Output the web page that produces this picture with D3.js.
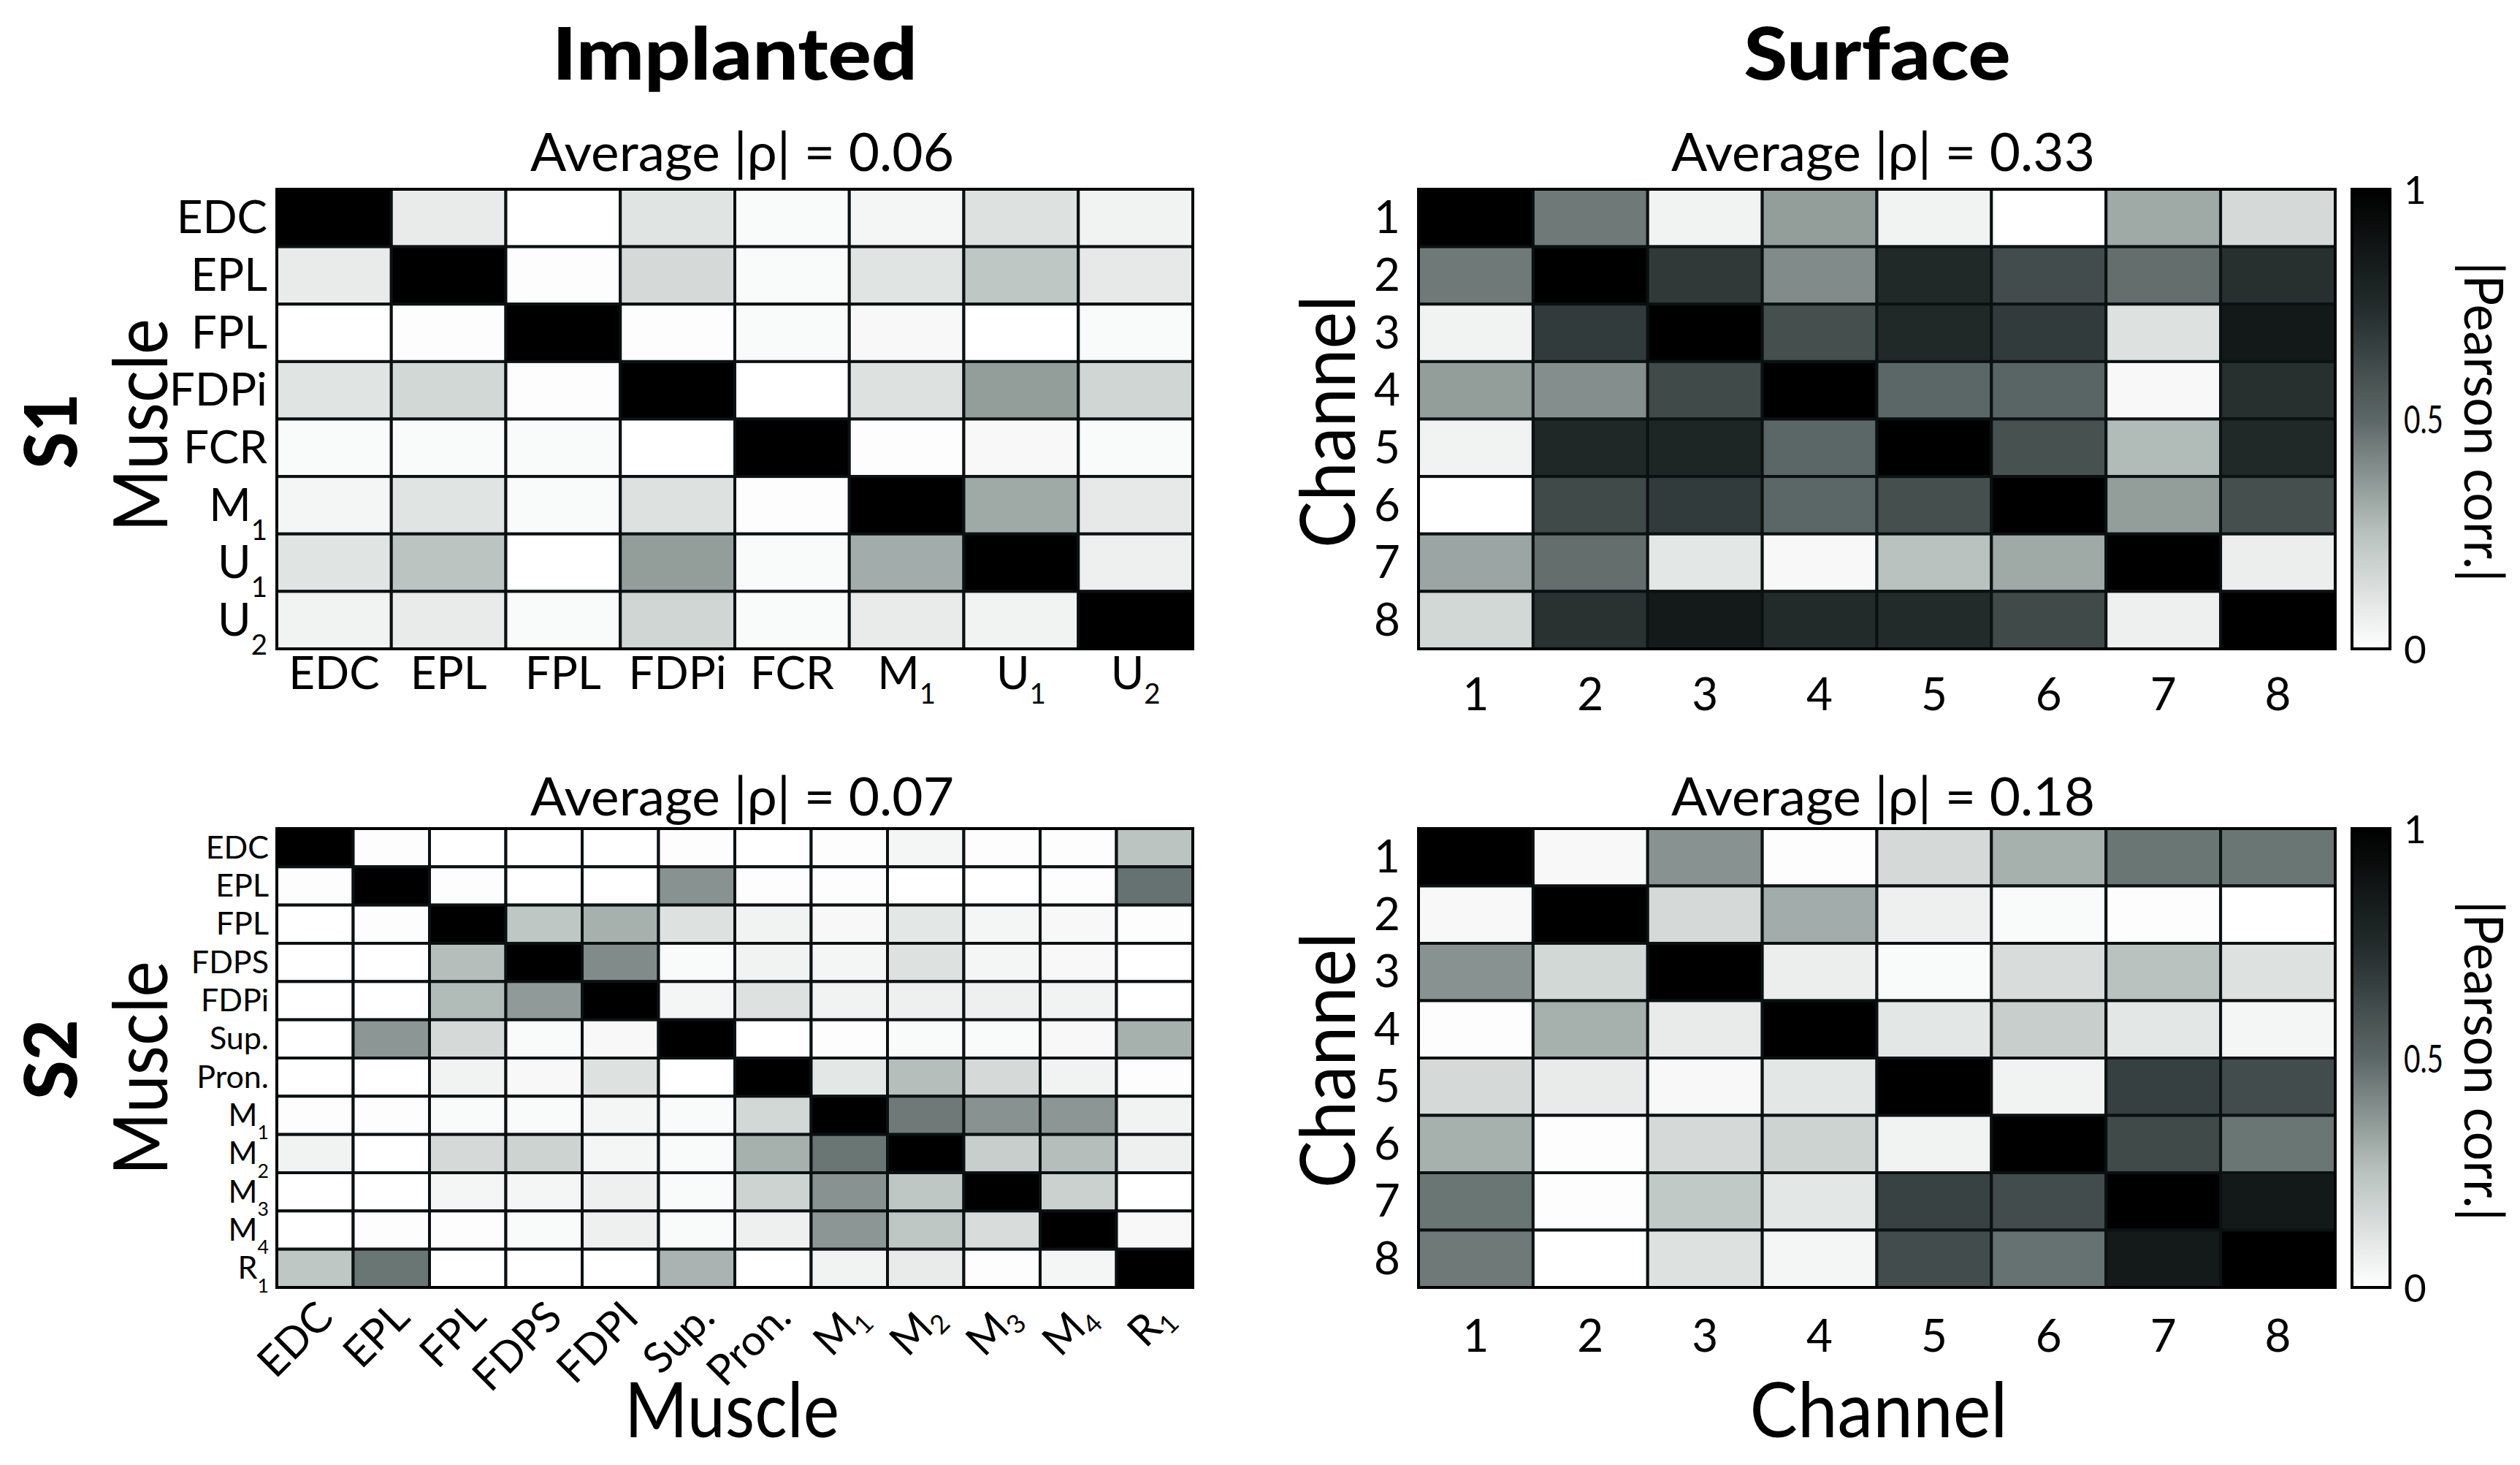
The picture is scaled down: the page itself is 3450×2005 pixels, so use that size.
<!DOCTYPE html>
<html>
<head>
<meta charset="utf-8">
<script src="https://cdn.jsdelivr.net/npm/d3@7"></script>
<style>
  body { margin: 0; background: #fff; }
  text { font-family: Lato, "Open Sans", "Noto Sans", sans-serif; fill: #000; }
</style>
</head>
<body>
<div id="chart"></div>
<script>
// Tick labels ("_" marks a subscript)
const s1Muscles = ["EDC", "EPL", "FPL", "FDPi", "FCR", "M_1", "U_1", "U_2"];
const s2MuscleRows = ["EDC", "EPL", "FPL", "FDPS", "FDPi", "Sup.", "Pron.", "M_1", "M_2", "M_3", "M_4", "R_1"];
const s2MuscleCols = ["EDC", "EPL", "FPL", "FDPS", "FDPI", "Sup.", "Pron.", "M_1", "M_2", "M_3", "M_4", "R_1"];
const channels = ["1", "2", "3", "4", "5", "6", "7", "8"];

// |Pearson corr.| matrices
const s1Implanted = [
  [1.00, 0.08, 0.00, 0.11, 0.02, 0.04, 0.12, 0.05],
  [0.08, 1.00, 0.01, 0.15, 0.02, 0.11, 0.23, 0.09],
  [0.00, 0.01, 1.00, 0.01, 0.02, 0.03, 0.00, 0.02],
  [0.11, 0.16, 0.01, 1.00, 0.00, 0.12, 0.35, 0.17],
  [0.02, 0.02, 0.02, 0.00, 1.00, 0.01, 0.03, 0.02],
  [0.04, 0.11, 0.02, 0.12, 0.01, 1.00, 0.32, 0.09],
  [0.11, 0.24, 0.00, 0.35, 0.02, 0.31, 1.00, 0.06],
  [0.05, 0.08, 0.02, 0.17, 0.02, 0.08, 0.05, 1.00]
];

const s1Surface = [
  [1.00, 0.45, 0.05, 0.35, 0.05, 0.00, 0.32, 0.15],
  [0.45, 1.00, 0.69, 0.40, 0.76, 0.61, 0.48, 0.73],
  [0.05, 0.68, 1.00, 0.60, 0.76, 0.68, 0.12, 0.86],
  [0.35, 0.39, 0.62, 1.00, 0.50, 0.51, 0.03, 0.73],
  [0.05, 0.77, 0.78, 0.50, 1.00, 0.59, 0.27, 0.76],
  [0.00, 0.62, 0.68, 0.50, 0.60, 1.00, 0.35, 0.60],
  [0.33, 0.48, 0.10, 0.03, 0.25, 0.32, 1.00, 0.07],
  [0.16, 0.72, 0.85, 0.75, 0.75, 0.62, 0.06, 1.00]
];

const s2Implanted = [
  [1.00, 0.01, 0.00, 0.00, 0.00, 0.01, 0.00, 0.01, 0.04, 0.01, 0.01, 0.24],
  [0.01, 1.00, 0.01, 0.00, 0.00, 0.38, 0.01, 0.01, 0.00, 0.00, 0.01, 0.47],
  [0.00, 0.01, 1.00, 0.23, 0.30, 0.12, 0.05, 0.03, 0.10, 0.04, 0.03, 0.01],
  [0.00, 0.00, 0.26, 1.00, 0.40, 0.02, 0.05, 0.04, 0.12, 0.04, 0.03, 0.00],
  [0.00, 0.00, 0.27, 0.36, 1.00, 0.04, 0.12, 0.05, 0.06, 0.06, 0.05, 0.00],
  [0.00, 0.37, 0.15, 0.02, 0.03, 1.00, 0.00, 0.01, 0.02, 0.02, 0.03, 0.30],
  [0.00, 0.00, 0.05, 0.03, 0.12, 0.00, 1.00, 0.10, 0.26, 0.15, 0.05, 0.01],
  [0.01, 0.01, 0.02, 0.02, 0.04, 0.02, 0.16, 1.00, 0.45, 0.38, 0.37, 0.05],
  [0.05, 0.00, 0.15, 0.18, 0.04, 0.02, 0.30, 0.46, 1.00, 0.20, 0.26, 0.06],
  [0.00, 0.00, 0.04, 0.04, 0.06, 0.02, 0.18, 0.38, 0.23, 1.00, 0.19, 0.00],
  [0.00, 0.01, 0.01, 0.02, 0.06, 0.02, 0.06, 0.37, 0.23, 0.14, 1.00, 0.03],
  [0.23, 0.46, 0.00, 0.00, 0.00, 0.29, 0.00, 0.05, 0.08, 0.01, 0.04, 1.00]
];

const s2Surface = [
  [1.00, 0.03, 0.38, 0.01, 0.15, 0.30, 0.46, 0.46],
  [0.03, 1.00, 0.15, 0.31, 0.06, 0.02, 0.01, 0.00],
  [0.38, 0.16, 1.00, 0.07, 0.02, 0.14, 0.25, 0.12],
  [0.01, 0.30, 0.08, 1.00, 0.10, 0.20, 0.10, 0.04],
  [0.15, 0.08, 0.03, 0.10, 1.00, 0.05, 0.66, 0.61],
  [0.30, 0.01, 0.15, 0.18, 0.05, 1.00, 0.62, 0.46],
  [0.46, 0.01, 0.22, 0.10, 0.65, 0.61, 1.00, 0.86],
  [0.45, 0.00, 0.12, 0.04, 0.61, 0.47, 0.85, 1.00]
];

// Average |rho| shown above each panel: S1 implanted, S1 surface, S2 implanted, S2 surface
const averageRho = [0.06, 0.33, 0.07, 0.18];
const colorbarTicks = [0, 0.5, 1];

// grey colormap (white -> black with a slight teal tint in the middle)
const color = d3.scaleLinear()
  .domain([0, 0.25, 0.5, 0.75, 1])
  .range(["#ffffff", "#b9c2bf", "#5b6766", "#222a2a", "#000000"])
  .clamp(true);

const W = 3450, H = 2005;
const svg = d3.select("#chart").append("svg")
  .attr("width", W)
  .attr("height", H)
  .style("background", "#fff");

// vertical gradient for the colorbars
const grad = svg.append("defs").append("linearGradient")
  .attr("id", "cbar")
  .attr("x1", 0).attr("y1", 1).attr("x2", 0).attr("y2", 0);
grad.selectAll("stop")
  .data(d3.range(0, 1.0001, 0.05))
  .enter().append("stop")
  .attr("offset", d => d)
  .attr("stop-color", d => color(d));

// turn "M_1" into M with a lowered small 1
function addSubscripts(sel, shift) {
  sel.each(function() {
    const t = d3.select(this);
    const parts = t.text().split("_");
    t.text(parts[0]);
    if (parts[1]) {
      t.append("tspan")
        .attr("font-size", "0.62em")
        .attr("dy", shift)
        .text(parts[1]);
    }
  });
}

function drawHeatmap(box, matrix, rowLabels, colLabels, opt) {
  const g = svg.append("g");
  const x = d3.scaleBand().domain(d3.range(colLabels.length)).range([box.x0, box.x1]);
  const y = d3.scaleBand().domain(d3.range(rowLabels.length)).range([box.y0, box.y1]);

  const cells = matrix.flatMap((row, i) => row.map((v, j) => ({ i, j, v })));
  g.selectAll("rect.cell")
    .data(cells)
    .enter().append("rect")
    .attr("class", "cell")
    .attr("x", d => x(d.j))
    .attr("y", d => y(d.i))
    .attr("width", x.bandwidth())
    .attr("height", y.bandwidth())
    .attr("fill", d => color(d.v))
    .attr("stroke", "#0b1010")
    .attr("stroke-width", 4);

  g.append("rect")
    .attr("x", box.x0).attr("y", box.y0)
    .attr("width", box.x1 - box.x0).attr("height", box.y1 - box.y0)
    .attr("fill", "none")
    .attr("stroke", "#000")
    .attr("stroke-width", 4);

  // row labels
  const yAxis = g.append("g")
    .attr("transform", `translate(${box.x0},0)`)
    .call(d3.axisLeft(y).tickSize(0).tickPadding(opt.rowPad).tickFormat(i => rowLabels[i]));
  yAxis.select(".domain").remove();
  yAxis.selectAll("text")
    .attr("font-size", opt.fs)
    .attr("dy", "0.34em");
  addSubscripts(yAxis.selectAll("text"), opt.fs * 0.42);

  // column labels
  const xAxis = g.append("g")
    .attr("transform", `translate(0,${box.y1})`)
    .call(d3.axisBottom(x).tickSize(0).tickFormat(j => colLabels[j]));
  xAxis.select(".domain").remove();
  const xt = xAxis.selectAll("text")
    .attr("font-size", opt.colFs || opt.fs)
    .attr("dy", null);
  if (opt.rotate) {
    xt.attr("y", 0)
      .attr("text-anchor", "end")
      .attr("transform", `translate(${opt.rotDx},${opt.rotDy}) rotate(${opt.rotate})`);
    addSubscripts(xt, opt.colFs * 0.18);
  } else {
    xt.attr("y", opt.colBase);
    addSubscripts(xt, opt.fs * 0.32);
  }

  // "Average |rho|" title
  svg.append("text")
    .attr("x", opt.titleX)
    .attr("y", opt.titleY)
    .attr("text-anchor", "middle")
    .attr("font-size", 71)
    .attr("textLength", 580)
    .attr("lengthAdjust", "spacingAndGlyphs")
    .text(`Average |ρ| = ${d3.format(".2f")(opt.avg)}`);

  return { x, y };
}

function drawColorbar(box) {
  const g = svg.append("g");
  g.append("rect")
    .attr("x", box.x0).attr("y", box.y0)
    .attr("width", box.x1 - box.x0).attr("height", box.y1 - box.y0)
    .attr("fill", "url(#cbar)")
    .attr("stroke", "#000")
    .attr("stroke-width", 4);
  const s = d3.scaleLinear().domain([0, 1]).range([box.y1, box.y0]);
  const ax = g.append("g")
    .attr("transform", `translate(${box.x1},0)`)
    .call(d3.axisRight(s).tickValues(colorbarTicks).tickSize(0).tickPadding(19).tickFormat(d => String(d)));
  ax.select(".domain").remove();
  ax.selectAll("text")
    .attr("font-size", 53)
    .attr("dy", "0.36em")
    .filter(d => d === 0.5)
    .attr("textLength", 54)
    .attr("lengthAdjust", "spacingAndGlyphs");

  svg.append("text")
    .attr("transform", `translate(3374,${(box.y0 + box.y1) / 2 + 4}) rotate(90)`)
    .attr("text-anchor", "middle")
    .attr("font-size", 74)
    .attr("textLength", 438)
    .attr("lengthAdjust", "spacingAndGlyphs")
    .text("|Pearson corr.|");
}

function rotatedTitle(txt, bx, cy, fs, len, weight) {
  svg.append("text")
    .attr("transform", `translate(${bx},${cy}) rotate(-90)`)
    .attr("text-anchor", "middle")
    .attr("font-size", fs)
    .attr("font-weight", weight || "normal")
    .attr("textLength", len)
    .attr("lengthAdjust", "spacingAndGlyphs")
    .text(txt);
}

function flatTitle(txt, cx, by, fs, len, weight) {
  svg.append("text")
    .attr("x", cx)
    .attr("y", by)
    .attr("text-anchor", "middle")
    .attr("font-size", fs)
    .attr("font-weight", weight || "normal")
    .attr("textLength", len)
    .attr("lengthAdjust", "spacingAndGlyphs")
    .text(txt);
}

// panels
const top0 = 259, top1 = 888, bot0 = 1134, bot1 = 1762;
const left0 = 379, left1 = 1633, right0 = 1942, right1 = 3197;

drawHeatmap({ x0: left0, x1: left1, y0: top0, y1: top1 }, s1Implanted, s1Muscles, s1Muscles,
  { fs: 62, rowPad: 13, colBase: 55, titleX: 1016, titleY: 234, avg: averageRho[0] });
drawHeatmap({ x0: right0, x1: right1, y0: top0, y1: top1 }, s1Surface, channels, channels,
  { fs: 62, rowPad: 25, colBase: 84, titleX: 2578, titleY: 234, avg: averageRho[1] });
drawHeatmap({ x0: left0, x1: left1, y0: bot0, y1: bot1 }, s2Implanted, s2MuscleRows, s2MuscleCols,
  { fs: 43, colFs: 58, rowPad: 11, rotate: -45, rotDx: 28, rotDy: 44, titleX: 1016, titleY: 1116, avg: averageRho[2] });
drawHeatmap({ x0: right0, x1: right1, y0: bot0, y1: bot1 }, s2Surface, channels, channels,
  { fs: 62, rowPad: 25, colBase: 88, titleX: 2578, titleY: 1116, avg: averageRho[3] });

drawColorbar({ x0: 3220, x1: 3272, y0: top0, y1: top1 });
drawColorbar({ x0: 3220, x1: 3272, y0: bot0, y1: bot1 });

// headings and axis titles
flatTitle("Implanted", 1006, 109, 100, 500, 900);
flatTitle("Surface", 2570, 109, 100, 365, 900);
rotatedTitle("S1", 105, 590, 100, 103, 900);
rotatedTitle("S2", 105, 1450, 100, 110, 900);
rotatedTitle("Muscle", 229, 582, 102, 292);
rotatedTitle("Muscle", 229, 1462, 102, 293);
rotatedTitle("Channel", 1855, 577, 105, 346);
rotatedTitle("Channel", 1855, 1451, 105, 350);
flatTitle("Muscle", 1002, 1967, 105, 294);
flatTitle("Channel", 2572, 1967, 105, 353);
</script>
</body>
</html>
